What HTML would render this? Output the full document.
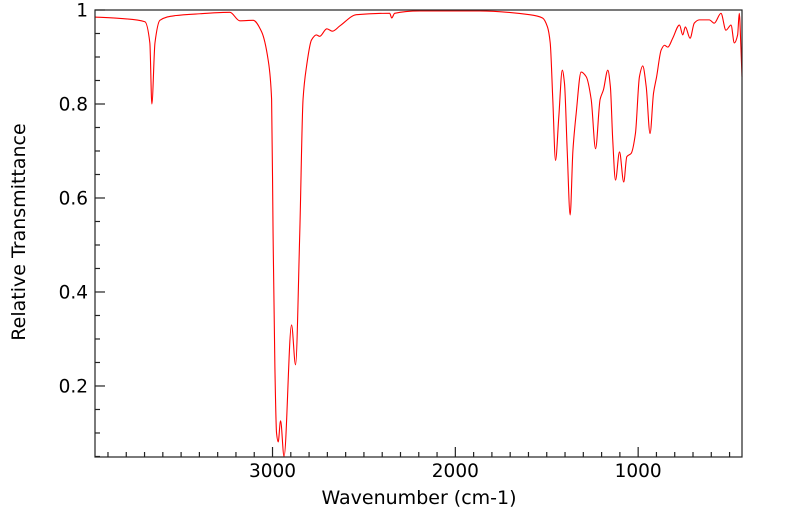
<!DOCTYPE html>
<html><head><meta charset="utf-8"><style>
body{margin:0;background:#fff;}
svg{display:block;font-family:"DejaVu Sans","Liberation Sans",sans-serif;}
</style></head><body>
<svg id="chart" width="799" height="516" viewBox="0 0 799 516" xmlns="http://www.w3.org/2000/svg">
<g id="ticks"></g>
<path id="spectrum" fill="none" stroke="#ff0000" stroke-width="1.1" stroke-linejoin="round"/>
<rect x="95" y="10" width="647" height="447" fill="none" stroke="#222" stroke-width="1.2"/>
<text x="419" y="504" font-size="19" text-anchor="middle">Wavenumber (cm-1)</text>
<text transform="translate(25,232) rotate(-90)" font-size="19" text-anchor="middle">Relative Transmittance</text>
</svg>
<script>
const wavenumbers=[3971,3834,3698,3671,3660,3643,3616,3534,3397,3233,3179,3106,3060,3024,3005,2997,2987,2978,2969,2956,2937,2896,2874,2851,2833,2814,2787,2760,2742,2703,2672,2632,2541,2359,2348,2332,2195,1867,1594,1523,1496,1481,1467,1452,1434,1415,1403,1388,1372,1357,1339,1312,1284,1257,1233,1208,1190,1166,1152,1139,1124,1102,1079,1062,1038,1015,993,975,956,935,916,899,874,856,838,811,774,756,742,716,693,666,611,584,547,520,492,474,456,447,438,432];
const transmittance=[0.985,0.982,0.975,0.93,0.80,0.93,0.978,0.988,0.992,0.995,0.977,0.978,0.954,0.894,0.81,0.525,0.24,0.10,0.081,0.126,0.05,0.33,0.245,0.525,0.81,0.88,0.936,0.947,0.944,0.96,0.955,0.966,0.99,0.993,0.983,0.993,0.998,0.998,0.99,0.983,0.964,0.93,0.81,0.68,0.773,0.872,0.844,0.70,0.564,0.70,0.78,0.868,0.858,0.81,0.705,0.81,0.83,0.872,0.837,0.723,0.638,0.698,0.634,0.688,0.695,0.737,0.858,0.881,0.837,0.737,0.823,0.858,0.915,0.925,0.921,0.94,0.968,0.947,0.964,0.94,0.972,0.979,0.979,0.972,0.993,0.957,0.968,0.93,0.947,0.993,0.921,0.858];
const xMajor=[3000,2000,1000];
const xMajorLabels=["3000","2000","1000"];
const yMajor=[0.2,0.4,0.6,0.8,1];
const yMajorLabels=["0.2","0.4","0.6","0.8","1"];
const WN_LEFT=3971,WN_RIGHT=432,T_TOP=1,T_BOTTOM=0.0489;
const X0=95,X1=742,Y0=10,Y1=457;
function sx(w){return X0+(WN_LEFT-w)/(WN_LEFT-WN_RIGHT)*(X1-X0);}
function sy(t){return Y0+(T_TOP-t)/(T_TOP-T_BOTTOM)*(Y1-Y0);}
const NS="http://www.w3.org/2000/svg";
const g=document.getElementById('ticks');
(function(){
  const xs=wavenumbers.map(sx), ys=transmittance.map(sy), n=xs.length;
  const dx=[],m=[],t=new Array(n);
  for(let i=0;i<n-1;i++){dx.push(xs[i+1]-xs[i]);m.push((ys[i+1]-ys[i])/(xs[i+1]-xs[i]));}
  t[0]=m[0];t[n-1]=m[n-2];
  for(let i=1;i<n-1;i++){
    if(m[i-1]*m[i]<=0)t[i]=0;
    else{const w1=2*dx[i]+dx[i-1],w2=dx[i]+2*dx[i-1];t[i]=(w1+w2)/(w1/m[i-1]+w2/m[i]);}
  }
  let d="M"+xs[0].toFixed(2)+","+ys[0].toFixed(2);
  for(let i=0;i<n-1;i++){
    const h=dx[i]/3;
    d+="C"+(xs[i]+h).toFixed(2)+","+(ys[i]+t[i]*h).toFixed(2)+" "+(xs[i+1]-h).toFixed(2)+","+(ys[i+1]-t[i+1]*h).toFixed(2)+" "+xs[i+1].toFixed(2)+","+ys[i+1].toFixed(2);
  }
  document.getElementById('spectrum').setAttribute('d',d);
})();
function line(x1,y1,x2,y2,name){const l=document.createElementNS(NS,'line');
l.setAttribute('x1',x1);l.setAttribute('y1',y1);l.setAttribute('x2',x2);l.setAttribute('y2',y2);
l.setAttribute('stroke','#222');l.setAttribute('stroke-width','1.2');


g.appendChild(l);}
function text(x,y,s,anchor,name){const t=document.createElementNS(NS,'text');
t.setAttribute('x',x);t.setAttribute('y',y);t.setAttribute('font-size','18.5');t.setAttribute('text-anchor',anchor);t.textContent=s;


g.appendChild(t);}
for(let w=3900;w>=500;w-=100){const x=sx(w);const major=w%1000===0;line(x,Y1,x,Y1-(major?10:5),major?'x-major-tick':'x-minor-tick');}
xMajor.forEach((w,i)=>text(sx(w),477,xMajorLabels[i],'middle','x-tick-label'));
for(let k=1;k<=20;k++){const t=k*0.05;if(t<T_BOTTOM)continue;const y=sy(t);const major=k%4===0;line(X0,y,X0+(major?10:5),y,major?'y-major-tick':'y-minor-tick');}
yMajor.forEach((t,i)=>text(88,sy(t)+6.5,yMajorLabels[i],'end','y-tick-label'));
</script>
</body></html>
